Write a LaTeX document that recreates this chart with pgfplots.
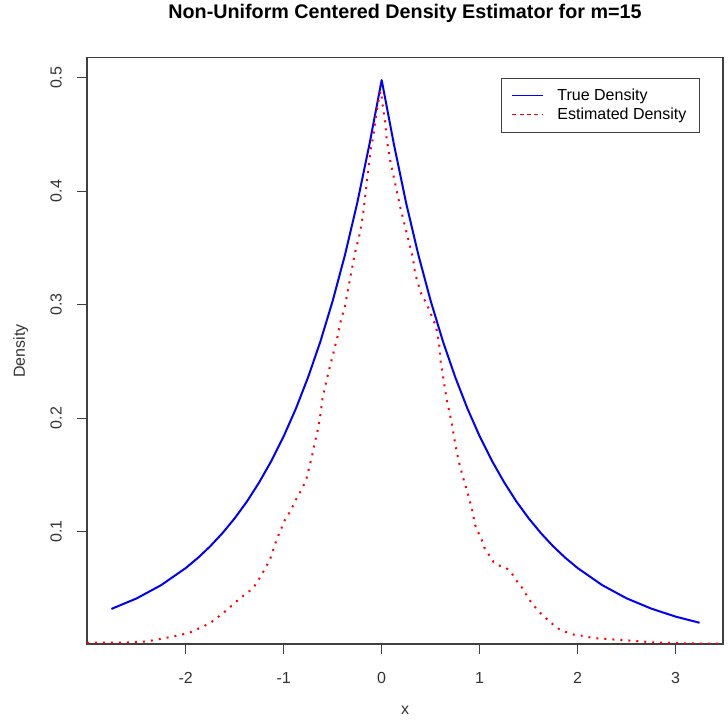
\documentclass[border=0pt]{standalone}
\usepackage{fontspec}
\setmainfont{Liberation Sans}
\usepackage{pgfplots}
\pgfplotsset{compat=1.18}

\pgfplotstableread{
x y
-2.758 0.0317
-2.5 0.0410
-2.25 0.0527
-2.0 0.0677
-1.875 0.0767
-1.75 0.0869
-1.625 0.0985
-1.5 0.1116
-1.375 0.1264
-1.25 0.1433
-1.125 0.1623
-1.0 0.1839
-0.875 0.2084
-0.75 0.2362
-0.625 0.2676
-0.5 0.3033
-0.375 0.3437
-0.25 0.3894
-0.125 0.4413
0 0.498
0.125 0.4413
0.25 0.3894
0.375 0.3437
0.5 0.3033
0.625 0.2676
0.75 0.2362
0.875 0.2084
1.0 0.1839
1.125 0.1623
1.25 0.1433
1.375 0.1264
1.5 0.1116
1.625 0.0985
1.75 0.0869
1.875 0.0767
2.0 0.0677
2.25 0.0527
2.5 0.0410
2.75 0.0320
3.0 0.0249
3.244 0.0195
}\truedens

\pgfplotstableread{
x y
-3.007 0.0015
-2.98 0.002
-2.64 0.002
-2.40 0.003
-2.13 0.0073
-1.958 0.0108
-1.754 0.019
-1.618 0.028
-1.447 0.041
-1.311 0.050
-1.226 0.0617
-1.141 0.075
-1.073 0.0926
-0.988 0.110
-0.919 0.1197
-0.886 0.1265
-0.842 0.133
-0.801 0.1397
-0.766 0.147
-0.732 0.159
-0.712 0.166
-0.681 0.179
-0.648 0.191
-0.623 0.2044
-0.603 0.2177
-0.569 0.231
-0.528 0.2456
-0.494 0.257
-0.45 0.272
-0.419 0.285
-0.375 0.2986
-0.331 0.319
-0.273 0.3456
-0.222 0.363
-0.188 0.381
-0.160 0.4015
-0.137 0.419
-0.112 0.4368
-0.085 0.4486
-0.058 0.466
-0.024 0.484
-0.008 0.488
0.016 0.472
0.034 0.462
0.051 0.4457
0.085 0.428
0.136 0.4074
0.187 0.3868
0.238 0.369
0.289 0.3515
0.317 0.342
0.340 0.328
0.364 0.3206
0.408 0.308
0.453 0.302
0.511 0.290
0.544 0.283
0.568 0.2756
0.589 0.263
0.603 0.249
0.629 0.235
0.664 0.216
0.715 0.1956
0.749 0.178
0.783 0.163
0.827 0.1485
0.868 0.1367
0.919 0.1206
0.953 0.1058
0.987 0.099
1.021 0.0926
1.045 0.0861
1.089 0.0802
1.14 0.0732
1.208 0.0696
1.27 0.0679
1.328 0.0632
1.362 0.0579
1.42 0.052
1.467 0.0455
1.508 0.0396
1.567 0.0332
1.628 0.0273
1.696 0.022
1.753 0.0176
1.821 0.0132
1.896 0.0109
1.974 0.0087
2.059 0.0079
2.135 0.0064
2.223 0.0056
2.376 0.0047
2.536 0.0038
2.808 0.002
3.047 0.0014
3.48 0.001
}\estdens

\begin{document}
\begin{tikzpicture}
\begin{axis}[
    name=main,
    scale only axis,
    width=477pt, height=439.5pt,
    xmin=-3.007, xmax=3.483,
    ymin=0.0008, ymax=0.5175,
    xtick={-2,-1,0,1,2,3},
    ytick={0.1,0.2,0.3,0.4,0.5},
    tick pos=left,
    tick align=outside,
    major tick length=7.5pt,
    axis line style={black!75, line width=0.8pt},
    every tick/.style={black!75, line width=0.8pt},
    tick label style={font=\fontsize{12}{14}\selectfont, text=black!80},
    /pgf/number format/assume math mode=true,
    xticklabel style={anchor=center, yshift=-18pt},
    yticklabel style={rotate=90, anchor=center, yshift=15.75pt},
    xlabel={x},
    ylabel={Density},
    xlabel style={at={(axis description cs:0.5,-0.1126)}, anchor=center, font=\fontsize{12}{14}\selectfont, text=black!80},
    ylabel style={at={(axis description cs:-0.104,0.5)}, anchor=center, font=\fontsize{12}{14}\selectfont, text=black!80},
    title={Non-Uniform Centered Density Estimator for m=15},
    title style={at={(axis description cs:0.5,1.062)}, anchor=center, font=\bfseries\fontsize{14.8}{17}\selectfont},
    legend style={at={(0.964,0.966)}, anchor=north east, draw=black!75, line width=0.6pt,
        font=\fontsize{12}{14}\selectfont, inner xsep=8pt, inner ysep=6pt,
        row sep=0pt, cells={anchor=west}},
    legend cell align=left,
    clip=true,
]
\addplot[blue, line width=1.5pt, line join=round,
    legend image code/.code={\draw[color=blue, line width=0.9pt] (0pt,0pt) -- (23pt,0pt); \path (31pt,0pt);}]
    table[x=x, y=y] {\truedens};
\addlegendentry{True Density}
\addplot[red, line width=1.5pt, dash pattern=on 1.5pt off 4.5pt,
    legend image code/.code={\draw[color=red, line width=0.9pt, dash pattern=on 3pt off 2.5pt] (0pt,0pt) -- (23pt,0pt); \path (31pt,0pt);}]
    table[x=x, y=y] {\estdens};
\addlegendentry{Estimated Density}
\end{axis}
\path (main.south west) ++(-65.25pt,-57.75pt) rectangle ++(546pt,538.5pt);
\end{tikzpicture}
\end{document}
